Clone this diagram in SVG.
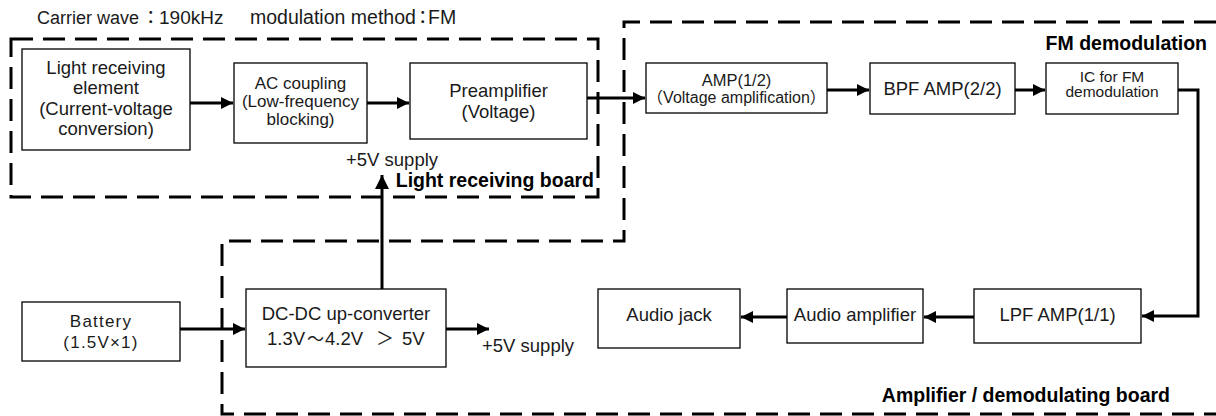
<svg xmlns="http://www.w3.org/2000/svg" width="1216" height="416" viewBox="0 0 1216 416">
<defs>
<style>
.box{fill:#fff;stroke:#000;stroke-width:1.3}
.board{fill:none;stroke:#000;stroke-width:3;stroke-dasharray:22 10}
.t{font-family:"Liberation Sans","Noto Sans CJK JP",Arial,sans-serif;fill:#1a1a1a;text-anchor:middle}
.j{font-family:"Noto Sans CJK JP","Liberation Sans",sans-serif}
.l{text-anchor:start}
.b{font-weight:bold;fill:#000}
.wire{fill:none;stroke:#000;stroke-width:3}
.arr{marker-end:url(#ah)}
</style>
<marker id="ah" markerUnits="userSpaceOnUse" viewBox="0 0 12 12" refX="12" refY="6" markerWidth="12" markerHeight="12" orient="auto">
<path d="M0,0 L12,6 L0,12 z" fill="#000"/>
</marker>
<marker id="ahBig" markerUnits="userSpaceOnUse" viewBox="0 0 14 14" refX="14" refY="7" markerWidth="14" markerHeight="14" orient="auto">
<path d="M0,0 L14,7 L0,14 z" fill="#000"/>
</marker>
</defs>
<rect width="1216" height="416" fill="#fff"/>

<g id="boards">
<rect class="board" x="11" y="39" width="587" height="158"/>
<path class="board" d="M1216,22 L624,22 L624,241 L222,241 L222,414 L1216,414"/>
</g>

<g id="labels">
<text class="t l" x="37" y="24" font-size="18">Carrier wave<tspan class="j" x="141.5" font-size="18.5" letter-spacing="-6">：</tspan><tspan x="159" font-size="19">190kHz</tspan><tspan x="250" font-size="19.5">modulation method</tspan><tspan class="j" x="413.5" font-size="18.5" letter-spacing="-6">：</tspan><tspan x="428" font-size="19.5">FM</tspan></text>
<text class="t b" x="1207" y="50" font-size="19.5" style="text-anchor:end">FM demodulation</text>
<text class="t b" x="594" y="187" font-size="19.5" style="text-anchor:end">Light receiving board</text>
<text class="t l" x="346" y="166" font-size="18.5">+5V supply</text>
<text class="t l" x="482" y="352" font-size="18.5">+5V supply</text>
<text class="t b" x="1170" y="402" font-size="19.5" style="text-anchor:end">Amplifier / demodulating board</text>
</g>

<g id="light-receiving-element">
<rect class="box" x="22" y="49" width="168" height="101"/>
<text class="t" x="106" y="74" font-size="18.5">Light receiving</text>
<text class="t" x="106" y="94" font-size="18.5">element</text>
<text class="t" x="106" y="115" font-size="18.5">(Current-voltage</text>
<text class="t" x="106" y="135" font-size="18.5">conversion)</text>
</g>

<g id="ac-coupling">
<rect class="box" x="234" y="63" width="133" height="80"/>
<text class="t" x="300.5" y="89" font-size="17">AC coupling</text>
<text class="t" x="300.5" y="107" font-size="17">(Low-frequency</text>
<text class="t" x="300.5" y="125" font-size="17">blocking)</text>
</g>

<g id="preamplifier">
<rect class="box" x="410" y="63" width="177" height="76"/>
<text class="t" x="498.5" y="97" font-size="18.5">Preamplifier</text>
<text class="t" x="498.5" y="118" font-size="18.5">(Voltage)</text>
</g>

<g id="amp-1-2">
<rect class="box" x="646" y="63" width="181" height="50"/>
<text class="t" x="736.5" y="86" font-size="16.5">AMP(1/2)</text>
<text class="t" x="736.5" y="103" font-size="16">（Voltage amplification）</text>
</g>

<g id="bpf-amp">
<rect class="box" x="870" y="63" width="145" height="51"/>
<text class="t" x="942.5" y="95" font-size="18.5">BPF AMP(2/2)</text>
</g>

<g id="ic-fm">
<rect class="box" x="1046" y="63" width="132" height="51"/>
<text class="t" x="1112" y="82" font-size="15.5">IC for FM</text>
<text class="t" x="1112" y="97" font-size="15.5">demodulation</text>
</g>

<g id="battery">
<rect class="box" x="22" y="302" width="158" height="59"/>
<text class="t" x="101" y="327" font-size="17" letter-spacing="1.2">Battery</text>
<text class="t" x="101" y="348" font-size="17" letter-spacing="1.2">(1.5V×1)</text>
</g>

<g id="dc-dc">
<rect class="box" x="246" y="289" width="200" height="78"/>
<text class="t" x="346" y="320" font-size="18.5">DC-DC up-converter</text>
<text class="t l" x="267" y="345" font-size="18.5">1.3V<tspan class="j" x="307" font-size="17" letter-spacing="-1">～</tspan><tspan x="325">4.2V</tspan><tspan class="j" x="376" font-size="18">＞</tspan><tspan x="402">5V</tspan></text>
</g>

<g id="audio-jack">
<rect class="box" x="598" y="289" width="142" height="59"/>
<text class="t" x="669" y="321" font-size="18.5">Audio jack</text>
</g>

<g id="audio-amplifier">
<rect class="box" x="787" y="289" width="136" height="54"/>
<text class="t" x="855" y="321" font-size="18.5">Audio amplifier</text>
</g>

<g id="lpf-amp">
<rect class="box" x="974" y="289" width="167" height="54"/>
<text class="t" x="1057.5" y="321" font-size="18.5">LPF AMP(1/1)</text>
</g>

<g id="connectors">
<line class="wire arr" x1="190" y1="103" x2="233" y2="103"/>
<line class="wire arr" x1="367" y1="103" x2="409" y2="103"/>
<line class="wire arr" x1="587" y1="98" x2="645" y2="98"/>
<line class="wire arr" x1="827" y1="90" x2="869" y2="90"/>
<line class="wire arr" x1="1015" y1="90" x2="1045" y2="90"/>
<polyline class="wire arr" points="1178,90 1198,90 1198,316 1142,316"/>
<line class="wire arr" x1="974" y1="317" x2="924" y2="317"/>
<line class="wire arr" x1="787" y1="317" x2="741" y2="317"/>
<line class="wire arr" x1="180" y1="329" x2="245" y2="329"/>
<line class="wire arr" x1="446" y1="329" x2="489" y2="329"/>
<line class="wire" x1="382" y1="289" x2="382" y2="175" marker-end="url(#ahBig)"/>
</g>
</svg>
